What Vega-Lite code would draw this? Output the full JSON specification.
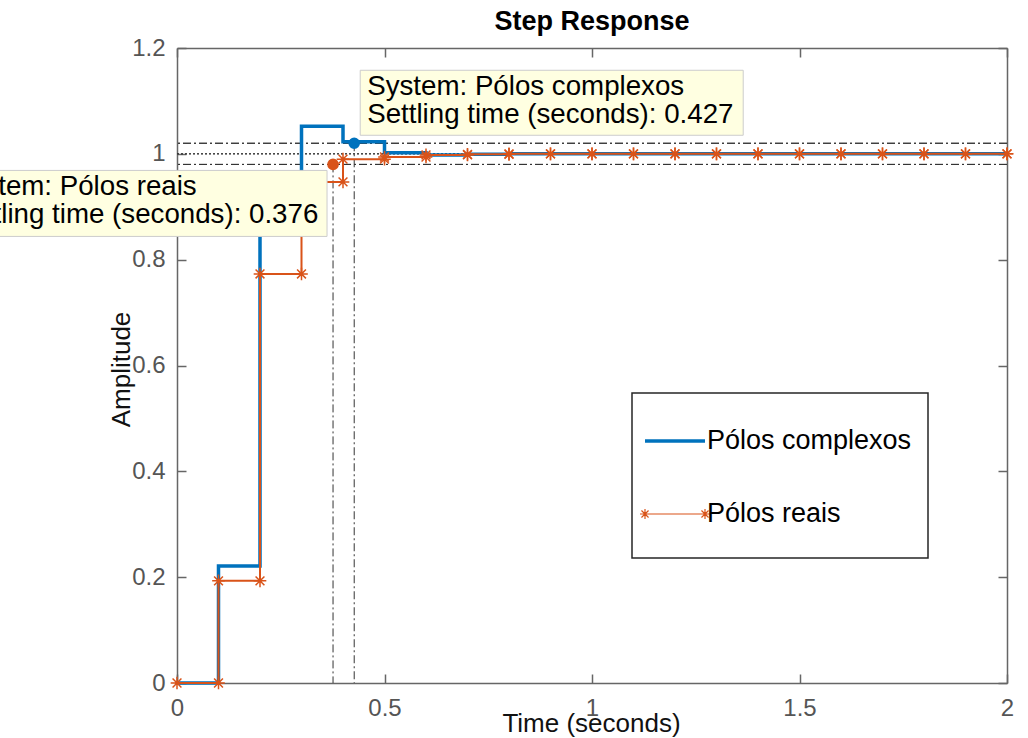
{
  "$schema": "https://vega.github.io/schema/vega-lite/v6.json",
  "width": 830,
  "height": 635,
  "autosize": {"type": "none"},
  "padding": {"left": 177, "top": 48, "right": 21, "bottom": 55},
  "background": "white",
  "title": {
    "text": "Step Response",
    "font": "Liberation Sans",
    "fontSize": 27,
    "fontWeight": "bold",
    "color": "#000000",
    "anchor": "middle",
    "frame": "group",
    "offset": 0
  },
  "config": {
    "view": {"stroke": null},
    "axis": {
      "grid": false,
      "domainColor": "#666666",
      "domainWidth": 1.5,
      "tickColor": "#666666",
      "tickWidth": 1.5,
      "tickSize": -9,
      "labelFont": "Liberation Sans",
      "labelFontSize": 24,
      "labelColor": "#555555",
      "labelFlush": false,
      "titleFont": "Liberation Sans",
      "titleFontSize": 26,
      "titleFontWeight": "normal",
      "titleColor": "#111111"
    }
  },
  "datasets": {
    "step": [
      {"sys": "Pólos complexos", "t": 0, "y": 0},
      {"sys": "Pólos complexos", "t": 0.1, "y": 0.221},
      {"sys": "Pólos complexos", "t": 0.2, "y": 0.92},
      {"sys": "Pólos complexos", "t": 0.3, "y": 1.052},
      {"sys": "Pólos complexos", "t": 0.4, "y": 1.023},
      {"sys": "Pólos complexos", "t": 0.5, "y": 1.002},
      {"sys": "Pólos complexos", "t": 0.6, "y": 0.998},
      {"sys": "Pólos complexos", "t": 0.7, "y": 0.999},
      {"sys": "Pólos complexos", "t": 0.8, "y": 1.0},
      {"sys": "Pólos complexos", "t": 0.9, "y": 1.0},
      {"sys": "Pólos complexos", "t": 1.0, "y": 1.0},
      {"sys": "Pólos complexos", "t": 1.1, "y": 1.0},
      {"sys": "Pólos complexos", "t": 1.2, "y": 1.0},
      {"sys": "Pólos complexos", "t": 1.3, "y": 1.0},
      {"sys": "Pólos complexos", "t": 1.4, "y": 1.0},
      {"sys": "Pólos complexos", "t": 1.5, "y": 1.0},
      {"sys": "Pólos complexos", "t": 1.6, "y": 1.0},
      {"sys": "Pólos complexos", "t": 1.7, "y": 1.0},
      {"sys": "Pólos complexos", "t": 1.8, "y": 1.0},
      {"sys": "Pólos complexos", "t": 1.9, "y": 1.0},
      {"sys": "Pólos complexos", "t": 2.0, "y": 1.0},
      {"sys": "Pólos reais", "t": 0, "y": 0},
      {"sys": "Pólos reais", "t": 0.1, "y": 0.193},
      {"sys": "Pólos reais", "t": 0.2, "y": 0.773},
      {"sys": "Pólos reais", "t": 0.3, "y": 0.947},
      {"sys": "Pólos reais", "t": 0.4, "y": 0.99},
      {"sys": "Pólos reais", "t": 0.5, "y": 0.994},
      {"sys": "Pólos reais", "t": 0.6, "y": 0.998},
      {"sys": "Pólos reais", "t": 0.7, "y": 0.999},
      {"sys": "Pólos reais", "t": 0.8, "y": 1.0},
      {"sys": "Pólos reais", "t": 0.9, "y": 1.0},
      {"sys": "Pólos reais", "t": 1.0, "y": 1.0},
      {"sys": "Pólos reais", "t": 1.1, "y": 1.0},
      {"sys": "Pólos reais", "t": 1.2, "y": 1.0},
      {"sys": "Pólos reais", "t": 1.3, "y": 1.0},
      {"sys": "Pólos reais", "t": 1.4, "y": 1.0},
      {"sys": "Pólos reais", "t": 1.5, "y": 1.0},
      {"sys": "Pólos reais", "t": 1.6, "y": 1.0},
      {"sys": "Pólos reais", "t": 1.7, "y": 1.0},
      {"sys": "Pólos reais", "t": 1.8, "y": 1.0},
      {"sys": "Pólos reais", "t": 1.9, "y": 1.0},
      {"sys": "Pólos reais", "t": 2.0, "y": 1.0}
    ],
    "settle": [
      {"sys": "Pólos reais", "ts": 0.376, "ym": 0.98, "hi": 1.02, "lo": 0.98, "yf": 1.0},
      {"sys": "Pólos complexos", "ts": 0.427, "ym": 1.02, "hi": 1.02, "lo": 0.98, "yf": 1.0}
    ]
  },
  "resolve": {"axis": {"x": "independent", "y": "independent"}},
  "layer": [
    {
      "data": {"name": "settle"},
      "transform": [{"fold": ["hi", "lo"], "as": ["band", "level"]}],
      "mark": {"type": "rule", "color": "#333333", "strokeWidth": 1, "strokeDash": [8, 3, 2, 3]},
      "encoding": {
        "y": {"field": "level", "type": "quantitative", "axis": null}
      }
    },
    {
      "data": {"name": "settle"},
      "mark": {"type": "rule", "color": "#333333", "strokeWidth": 1, "strokeDash": [2, 2]},
      "encoding": {
        "y": {"field": "yf", "type": "quantitative", "axis": null}
      }
    },
    {
      "data": {"name": "settle"},
      "mark": {"type": "rule", "color": "#333333", "strokeWidth": 1, "strokeDash": [8, 3, 2, 3]},
      "encoding": {
        "x": {"field": "ts", "type": "quantitative", "axis": null},
        "y": {"field": "ym", "type": "quantitative", "axis": null},
        "y2": {"datum": 0}
      }
    },
    {
      "data": {"name": "step"},
      "transform": [{"filter": "datum.sys === 'Pólos complexos'"}],
      "mark": {"type": "line", "interpolate": "step-after", "strokeWidth": 3.5},
      "encoding": {
        "x": {
          "field": "t", "type": "quantitative",
          "scale": {"domain": [0, 2], "nice": false, "zero": false},
          "axis": {
            "orient": "bottom", "values": [0, 0.5, 1, 1.5, 2], "format": "~g",
            "labelPadding": 22, "title": "Time (seconds)",
            "titleX": 414, "titleY": 48, "titleBaseline": "alphabetic", "titleAlign": "center"
          }
        },
        "y": {
          "field": "y", "type": "quantitative",
          "scale": {"domain": [0, 1.2], "nice": false, "zero": false},
          "axis": {
            "orient": "left", "values": [0, 0.2, 0.4, 0.6, 0.8, 1, 1.2], "format": "~g",
            "labelPadding": 21, "title": "Amplitude",
            "titleX": -48, "titleY": 321, "titleAngle": 270,
            "titleBaseline": "alphabetic", "titleAlign": "center"
          }
        },
        "color": {
          "field": "sys", "type": "nominal",
          "scale": {"domain": ["Pólos complexos", "Pólos reais"], "range": ["#0072BD", "#D95319"]},
          "legend": {
            "title": " ",
            "titleOrient": "bottom",
            "titleFontSize": 10,
            "titlePadding": 5,
            "orient": "none",
            "legendX": 455,
            "legendY": 345,
            "padding": 16,
            "fillColor": "white",
            "strokeColor": "#262626",
            "symbolSize": 3600,
            "symbolOffset": -5,
            "rowPadding": 28,
            "labelOffset": 0,
            "labelFont": "Liberation Sans",
            "labelFontSize": 27,
            "labelColor": "#000000",
            "labelLimit": 400,
            "encode": {
              "legend": {"update": {"strokeWidth": {"value": 1.5}}},
              "symbols": {
                "update": {
                  "shape": {"signal": "(datum.value === 'Pólos reais' ? 'M-1,0H1M-1.167,0H-0.833M-1,-0.167V0.167M-1.118,-0.118L-0.882,0.118M-1.118,0.118L-0.882,-0.118M0.833,0H1.167M1,-0.167V0.167M0.882,-0.118L1.118,0.118M0.882,0.118L1.118,-0.118' : 'M-1,0H1')"},
                  "size": {"value": 3600},
                  "strokeWidth": {"signal": "(datum.value === 'Pólos reais' ? 1.2 : 3.5)"},
                  "stroke": {"signal": "(datum.value === 'Pólos reais' ? '#D95319' : '#0072BD')"},
                  "fill": {"value": "transparent"},
                  "opacity": {"value": 1}
                }
              }
            }
          }
        }
      }
    },
    {
      "data": {"name": "step"},
      "transform": [{"filter": "datum.sys === 'Pólos reais'"}],
      "mark": {"type": "line", "interpolate": "step-after", "strokeWidth": 2},
      "encoding": {
        "x": {
          "field": "t", "type": "quantitative",
          "axis": {"orient": "top", "values": [0, 0.5, 1, 1.5, 2], "labels": false, "title": null}
        },
        "y": {
          "field": "y", "type": "quantitative",
          "axis": {"orient": "right", "values": [0, 0.2, 0.4, 0.6, 0.8, 1, 1.2], "labels": false, "title": null}
        },
        "color": {"field": "sys", "type": "nominal"}
      }
    },
    {
      "data": {"name": "step"},
      "transform": [{"filter": "datum.sys === 'Pólos reais'"}],
      "mark": {
        "type": "point",
        "shape": "M-1,0H1M0,-1V1M-0.7,-0.7L0.7,0.7M-0.7,0.7L0.7,-0.7",
        "size": 160,
        "filled": false,
        "stroke": "#D95319",
        "strokeWidth": 1.5,
        "opacity": 1,
        "clip": false
      },
      "encoding": {
        "x": {"field": "t", "type": "quantitative", "axis": null},
        "y": {"field": "y", "type": "quantitative", "axis": null}
      }
    },
    {
      "data": {"name": "step"},
      "transform": [
        {"filter": "datum.sys === 'Pólos reais'"},
        {"window": [{"op": "lag", "field": "y", "as": "yprev"}], "sort": [{"field": "t"}]},
        {"filter": "datum.yprev != null"}
      ],
      "mark": {
        "type": "point",
        "shape": "M-1,0H1M0,-1V1M-0.7,-0.7L0.7,0.7M-0.7,0.7L0.7,-0.7",
        "size": 160,
        "filled": false,
        "stroke": "#D95319",
        "strokeWidth": 1.5,
        "opacity": 1,
        "clip": false
      },
      "encoding": {
        "x": {"field": "t", "type": "quantitative", "axis": null},
        "y": {"field": "yprev", "type": "quantitative", "axis": null}
      }
    },
    {
      "data": {"name": "settle"},
      "mark": {"type": "point", "shape": "circle", "filled": true, "size": 135, "opacity": 1},
      "encoding": {
        "x": {"field": "ts", "type": "quantitative", "axis": null},
        "y": {"field": "ym", "type": "quantitative", "axis": null},
        "color": {"field": "sys", "type": "nominal"}
      }
    },
    {
      "data": {"name": "settle"},
      "transform": [{"filter": "datum.sys === 'Pólos reais'"}],
      "mark": {
        "type": "rect", "fill": "#FFFFE1", "stroke": "#CCCCCC", "strokeWidth": 1,
        "xOffset": -420, "x2Offset": -6, "yOffset": 6, "y2Offset": 72, "clip": false
      },
      "encoding": {
        "x": {"field": "ts", "type": "quantitative", "axis": null},
        "x2": {"field": "ts"},
        "y": {"field": "ym", "type": "quantitative", "axis": null},
        "y2": {"field": "ym"}
      }
    },
    {
      "data": {"name": "settle"},
      "transform": [
        {"filter": "datum.sys === 'Pólos reais'"},
        {"calculate": "['System: ' + datum.sys, 'Settling time (seconds): ' + format(datum.ts, '.3f')]", "as": "tip"}
      ],
      "mark": {
        "type": "text", "align": "left", "baseline": "alphabetic", "dx": -381, "dy": 31,
        "font": "Liberation Sans", "fontSize": 27.7, "lineHeight": 28, "color": "#000000", "clip": false
      },
      "encoding": {
        "x": {"field": "ts", "type": "quantitative", "axis": null},
        "y": {"field": "ym", "type": "quantitative", "axis": null},
        "text": {"field": "tip", "type": "nominal"}
      }
    },
    {
      "data": {"name": "settle"},
      "transform": [{"filter": "datum.sys === 'Pólos complexos'"}],
      "mark": {
        "type": "rect", "fill": "#FFFFE1", "stroke": "#CCCCCC", "strokeWidth": 1,
        "xOffset": 6, "x2Offset": 389, "yOffset": -73, "y2Offset": -8, "clip": false
      },
      "encoding": {
        "x": {"field": "ts", "type": "quantitative", "axis": null},
        "x2": {"field": "ts"},
        "y": {"field": "ym", "type": "quantitative", "axis": null},
        "y2": {"field": "ym"}
      }
    },
    {
      "data": {"name": "settle"},
      "transform": [
        {"filter": "datum.sys === 'Pólos complexos'"},
        {"calculate": "['System: ' + datum.sys, 'Settling time (seconds): ' + format(datum.ts, '.3f')]", "as": "tip"}
      ],
      "mark": {
        "type": "text", "align": "left", "baseline": "alphabetic", "dx": 13, "dy": -48,
        "font": "Liberation Sans", "fontSize": 27.7, "lineHeight": 28, "color": "#000000", "clip": false
      },
      "encoding": {
        "x": {"field": "ts", "type": "quantitative", "axis": null},
        "y": {"field": "ym", "type": "quantitative", "axis": null},
        "text": {"field": "tip", "type": "nominal"}
      }
    }
  ]
}
